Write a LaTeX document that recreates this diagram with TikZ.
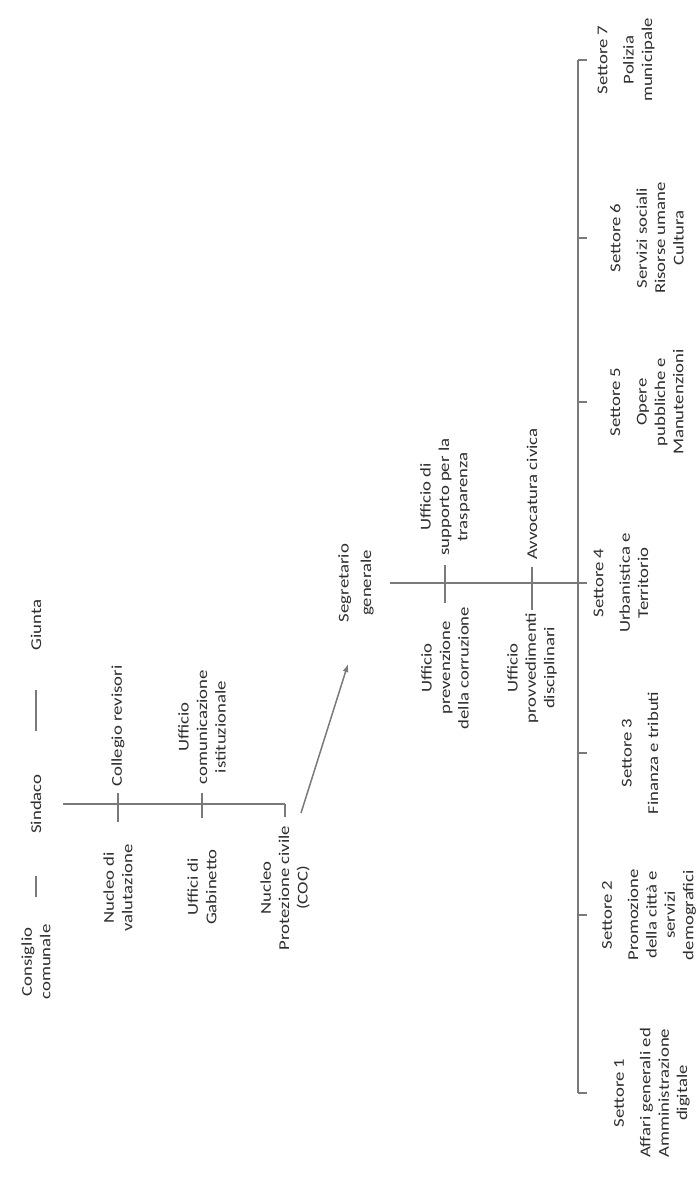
\documentclass[tikz,border=0pt]{standalone}
\usepackage{fontspec}
\setmainfont{Carlito}[FakeStretch=1.25]
\usetikzlibrary{arrows.meta}
\begin{document}
\begin{tikzpicture}[x=0.5pt,y=-0.5pt,
  lbl/.style={rotate=90, align=center, inner sep=0pt,
    font=\fontsize{7.5}{9.2}\selectfont, text=black!82},
  conn/.style={draw=black!52, line width=0.75pt},
  arr/.style={conn, -{Latex[length=4pt,width=3pt]}},
]
\useasboundingbox[fill=white] (0,0) rectangle (700,1179);

% ---- top row: Consiglio comunale - Sindaco - Giunta
\node[lbl] (cons)   at (36,962) {Consiglio\\comunale};
\node[lbl] (sind)   at (36,804) {Sindaco};
\node[lbl] (giunta) at (36,625) {Giunta};
\draw[conn, shorten <=32.5pt, shorten >=36pt] (cons.center) -- (sind.center);
\draw[conn, shorten <=36.5pt, shorten >=32.5pt] (sind.center) -- (giunta.center);

% ---- staff of the Sindaco
\node[lbl] (cr)  at (118,726) {Collegio revisori};
\node[lbl] (nv)  at (118,888) {Nucleo di\\valutazione};
\node[lbl] (uc)  at (202,727) {Ufficio\\comunicazione\\istituzionale};
\node[lbl] (ug)  at (202,887) {Uffici di\\Gabinetto};
\node[lbl] (npc) at (285,888) {Nucleo\\Protezione civile\\(COC)};
\coordinate (sj3) at (285,804);
\draw[conn, shorten <=13.5pt] (sind.center) -- (sj3);
\draw[conn, shorten <=33.5pt, shorten >=33pt] (cr.center) -- (nv.center);
\draw[conn, shorten <=33pt, shorten >=34.5pt] (uc.center) -- (ug.center);
\draw[conn, shorten >=35.5pt] (sj3) -- (npc.center);

% ---- Segretario generale
\node[lbl] (seg) at (356,583) {Segretario\\[2pt]generale};
\coordinate (dg0) at (301,813);
\coordinate (dg1) at (348,664);
\draw[arr] (dg0) -- (dg1);

\node[lbl] (usup)  at (445,497) {Ufficio di\\supporto per la\\trasparenza};
\node[lbl] (uprev) at (445,668) {Ufficio\\prevenzione\\della corruzione};
\node[lbl] (avv)   at (532,494) {Avvocatura civica};
\node[lbl] (uprov) at (532,668) {Ufficio\\provvedimenti\\disciplinari};
\draw[conn, shorten <=34pt, shorten >=32.5pt] (usup.center) -- (uprev.center);
\draw[conn, shorten <=36.5pt, shorten >=29pt] (avv.center) -- (uprov.center);

% ---- Settori bus
\coordinate (b7) at (578,60);
\coordinate (b6) at (578,238);
\coordinate (b5) at (578,402);
\coordinate (b4) at (578,583);
\coordinate (b3) at (578,753);
\coordinate (b2) at (578,915);
\coordinate (b1) at (578,1093);
\draw[conn, shorten <=17pt] (seg.center) -- (b4);
\draw[conn] (b7) -- (b1);

\node[lbl] (s7) at (626,60)   {Settore 7\\[4pt]Polizia\\municipale};
\node[lbl] (s6) at (647,238)  {Settore 6\\[4pt]Servizi sociali\\Risorse umane\\Cultura};
\node[lbl] (s5) at (647,402)  {Settore 5\\[4pt]Opere\\pubbliche e\\Manutenzioni};
\node[lbl] (s4) at (621,583)  {Settore 4\\[4pt]Urbanistica e\\Territorio};
\node[lbl] (s3) at (640,753)  {Settore 3\\[4pt]Finanza e tributi};
\node[lbl] (s2) at (649,915)  {Settore 2\\[4pt]Promozione\\della città e\\servizi\\demografici};
\node[lbl] (s1) at (652,1093) {Settore 1\\[4pt]Affari generali ed\\Amministrazione\\digitale};

\draw[conn, shorten >=19.5pt] (b7) -- (s7.center);
\draw[conn, shorten >=30pt]   (b6) -- (s6.center);
\draw[conn, shorten >=30pt]   (b5) -- (s5.center);
\draw[conn, shorten >=17pt]   (b4) -- (s4.center);
\draw[conn, shorten >=26.5pt] (b3) -- (s3.center);
\draw[conn, shorten >=31pt]   (b2) -- (s2.center);
\draw[conn, shorten >=32.5pt] (b1) -- (s1.center);
\end{tikzpicture}
\end{document}
